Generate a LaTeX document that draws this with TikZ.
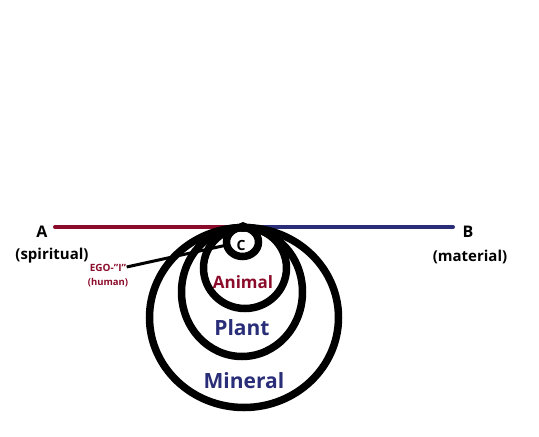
\documentclass[tikz,border=0pt]{standalone}
\usepackage{fontspec}
\setmainfont{Open Sans}
\usepackage{tikz}
\usetikzlibrary{calc,positioning}
\definecolor{myred}{RGB}{139,12,42}
\definecolor{myblue}{RGB}{42,46,120}

\begin{document}
\begin{tikzpicture}[x=1pt,y=-1pt,
    ring/.style={draw=black, line width=7.5pt},
    endlabel/.style={font=\bfseries\fontsize{16}{18}\selectfont, text=black},
    kingdom/.style={font=\bfseries\fontsize{21}{24}\selectfont, text=myblue}]
  \useasboundingbox (0,0) rectangle (539,437);

  % Axis
  \coordinate (a) at (55,227);
  \coordinate (c) at (243,227);
  \coordinate (b) at (453,227);
  \draw[myred, line width=4pt, line cap=round] (a) -- (c);
  \draw[myblue, line width=4pt, line cap=round] (c) -- (b);

  % Rings
  \draw[ring] (244,317.5) ellipse [x radius=94.5, y radius=90];
  \draw[ring] (242,292) ellipse [x radius=60.5, y radius=64.5];
  \draw[ring] (245,268) ellipse [x radius=41.5, y radius=40.5];
  \draw[ring] (242.5,242) ellipse [x radius=16, y radius=14.5];
  \fill (c) circle (5pt);
  \coordinate (cleft) at (227,245);

  % Labels
  \node[endlabel] (alabel) at (42,232) {A};
  \node[endlabel, font=\bfseries\fontsize{15}{17}\selectfont] (spirit) at (52,256) {(spiritual)};
  \node[endlabel] (blabel) at (468,232) {B};
  \node[endlabel, font=\bfseries\fontsize{15}{17}\selectfont] (matter) at (470,257) {(material)};
  \node[font=\bfseries\fontsize{14}{16}\selectfont] (clabel) at (241,245) {C};
  \node[kingdom, text=myred, font=\bfseries\fontsize{17}{20}\selectfont] (animal) at (243,282) {Animal};
  \node[kingdom] (plant) at (242,328) {Plant};
  \node[kingdom] (mineral) at (244,381) {Mineral};

  % Ego
  \node[text=myred, font=\bfseries\fontsize{10}{12}\selectfont] (ego) at (108,268) {EGO-\char"22 I\char"22};
  \node[text=myred, font=\bfseries\fontsize{9.5}{12}\selectfont] (human) at (108,283) {(human)};
  \draw[line width=3pt] ($(ego.east)+(-3,-1)$) -- (cleft);
\end{tikzpicture}
\end{document}
